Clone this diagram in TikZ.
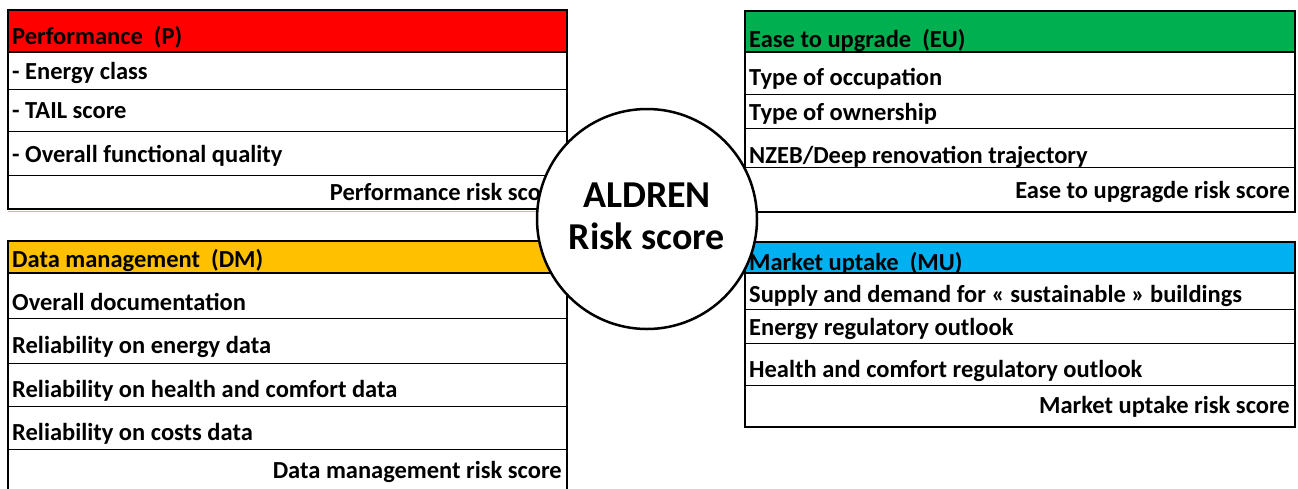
\documentclass[tikz,border=0pt]{standalone}
\usepackage{fontspec}
\setmainfont{Carlito}
\definecolor{pred}{HTML}{FF0000}
\definecolor{porange}{HTML}{FFC000}
\definecolor{pgreen}{HTML}{00B050}
\definecolor{pblue}{HTML}{00B0F0}
\begin{document}
\begin{tikzpicture}[x=1pt,y=-1pt,
  txt/.style={inner sep=0pt, anchor=base west, font=\fontsize{24.5}{28}\selectfont\bfseries},
  rtxt/.style={txt, anchor=base east},
  outer/.style={line width=2pt, black},
  rowline/.style={line width=1pt, black},
  bigtxt/.style={inner sep=0pt, anchor=base, font=\fontsize{38}{42}\selectfont\bfseries}]
\useasboundingbox (0,0) rectangle (1298,488);
\fill[white] (0,0) rectangle (1298,488);

% Performance box
\fill[pred] (8,10) rectangle (567,52);
\draw[rowline] (8,89) -- (567,89) (8,131) -- (567,131) (8,175) -- (567,175);
\draw[porange, line width=1pt] (8,211) -- (567,211);
\draw[outer] (8,10) rectangle (567,209);
\draw[outer] (8,52) -- (567,52);
\node[txt] (p0) at (12,44) {Performance\ \ (P)};
\node[txt] (p1) at (12,79) {- Energy class};
\node[txt] (p2) at (12,118) {- TAIL score};
\node[txt] (p3) at (12,162) {- Overall functional quality};
\node[rtxt] (p4) at (562,200) {Performance risk score};

% Data management box
\fill[porange] (8,241) rectangle (567,273);
\draw[rowline] (8,318) -- (567,318) (8,363) -- (567,363) (8,406) -- (567,406) (8,449) -- (567,449);
\draw[outer] (8,241) rectangle (567,495);
\draw[outer] (8,273) -- (567,273);
\node[txt] (d0) at (12,267) {Data management\ \ (DM)};
\node[txt] (d1) at (12,310) {Overall documentation};
\node[txt] (d2) at (12,353) {Reliability on energy data};
\node[txt] (d3) at (12,397) {Reliability on health and comfort data};
\node[txt] (d4) at (12,440) {Reliability on costs data};
\node[rtxt] (d5) at (562,478) {Data management risk score};

% Ease to upgrade box
\fill[pgreen] (745,11) rectangle (1295,52);
\draw[rowline] (745,94) -- (1295,94) (745,128) -- (1295,128) (745,167) -- (1295,167);
\draw[outer] (745,11) rectangle (1295,212);
\draw[outer] (745,52) -- (1295,52);
\node[txt] (e0) at (749,47) {Ease to upgrade\ \ (EU)};
\node[txt] (e1) at (749,85) {Type of occupation};
\node[txt] (e2) at (749,120) {Type of ownership};
\node[txt] (e3) at (749,163) {NZEB/Deep renovation trajectory};
\node[rtxt] (e4) at (1290,198) {Ease to upgragde risk score};

% Market uptake box
\fill[pblue] (745,242) rectangle (1295,273);
\draw[rowline] (745,309) -- (1295,309) (745,343) -- (1295,343) (745,385) -- (1295,385);
\draw[outer] (745,242) rectangle (1295,427);
\draw[outer] (745,273) -- (1295,273);
\node[txt] (m0) at (749,270) {Market uptake\ \ (MU)};
\node[txt] (m1) at (749,302) {Supply and demand for « sustainable » buildings};
\node[txt] (m2) at (749,335) {Energy regulatory outlook};
\node[txt] (m3) at (749,377) {Health and comfort regulatory outlook};
\node[rtxt] (m4) at (1290,413) {Market uptake risk score};

% Central circle
\draw[line width=2.5pt, fill=white] (647,219) circle (110);
\node[bigtxt] (c1) at (647,207) {ALDREN};
\node[bigtxt] (c2) at (647,249) {Risk score};
\end{tikzpicture}
\end{document}
